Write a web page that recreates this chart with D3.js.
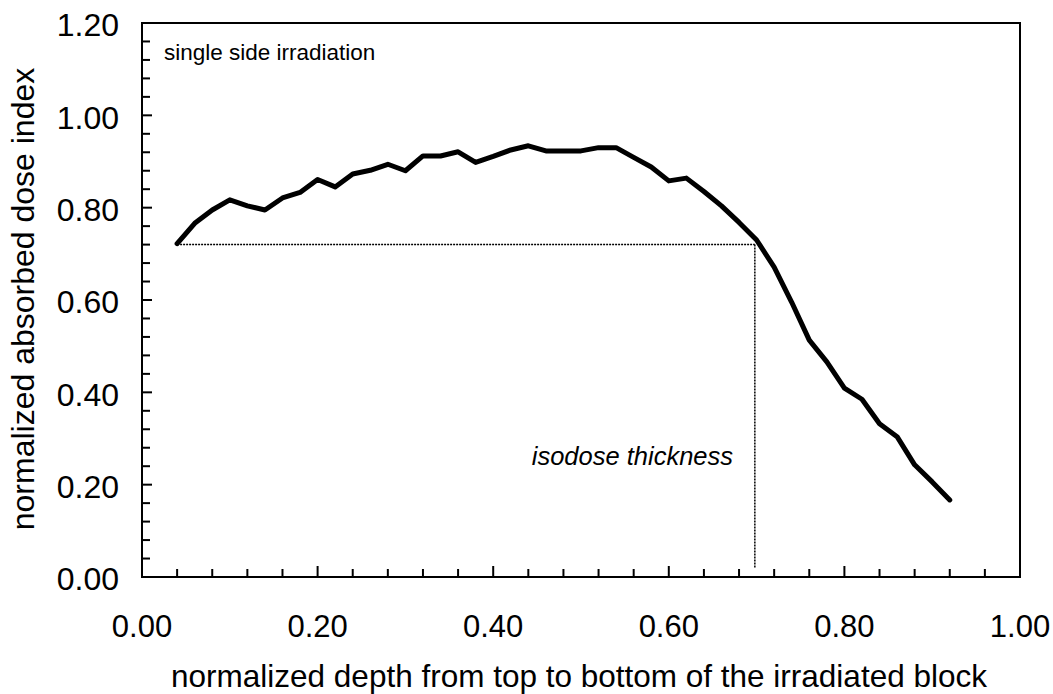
<!DOCTYPE html>
<html><head><meta charset="utf-8">
<script src="https://cdn.jsdelivr.net/npm/d3@7"></script>
<style>
html,body{margin:0;padding:0;background:#fff;}
svg{display:block;font-family:"Liberation Sans",Arial,sans-serif;}
</style></head>
<body>
<svg id="chart" width="1053" height="694"></svg>
<script>
const depth = [0.04,0.06,0.08,0.10,0.12,0.14,0.16,0.18,0.20,0.22,0.24,0.26,0.28,0.30,0.32,0.34,0.36,0.38,0.40,0.42,0.44,0.46,0.48,0.50,0.52,0.54,0.56,0.58,0.60,0.62,0.64,0.66,0.68,0.70,0.72,0.74,0.76,0.78,0.80,0.82,0.84,0.86,0.88,0.90,0.92];
const dose = [0.722,0.766,0.795,0.817,0.804,0.795,0.821,0.833,0.861,0.845,0.873,0.881,0.894,0.880,0.912,0.912,0.921,0.898,0.911,0.925,0.934,0.923,0.923,0.923,0.930,0.930,0.909,0.888,0.858,0.864,0.835,0.804,0.768,0.730,0.671,0.595,0.513,0.466,0.409,0.385,0.332,0.304,0.243,0.206,0.167];
const xTickLabels = ["0.00","0.20","0.40","0.60","0.80","1.00"];
const yTickLabels = ["0.00","0.20","0.40","0.60","0.80","1.00","1.20"];
const isoLevel = [0.72];
const isoDepth = [0.698];
const xTitle = "normalized depth from top to bottom of the irradiated block";
const yTitle = "normalized absorbed dose index";
const note = "single side irradiation";
const isoLabel = "isodose thickness";

const svg = d3.select("#chart");
const L = 142, R = 1020, T = 23, B = 577;
const x = d3.scaleLinear().domain([0, 1]).range([L, R]);
const y = d3.scaleLinear().domain([0, 1.2]).range([B, T]);

// frame
svg.append("rect").attr("x", L).attr("y", T).attr("width", R - L).attr("height", B - T)
  .attr("fill", "none").attr("stroke", "#000").attr("stroke-width", 2);

// minor ticks (step 0.04), major at 0.2
const minorVals = d3.range(0, 31).map(i => i * 0.04);
const g = svg.append("g").attr("stroke", "#000").attr("stroke-width", 2);
minorVals.forEach(v => {
  const major = Math.abs(v / 0.2 - Math.round(v / 0.2)) < 1e-6;
  if (v <= 1.0001) {
    g.append("line").attr("x1", x(v)).attr("x2", x(v)).attr("y1", B).attr("y2", B - (major ? 11 : 8));
  }
  if (v <= 1.2001) {
    g.append("line").attr("y1", y(v)).attr("y2", y(v)).attr("x1", L).attr("x2", L + (major ? 10 : 8));
  }
});

// tick labels
xTickLabels.forEach(t => {
  svg.append("text").attr("x", x(+t)).attr("y", 637).attr("text-anchor", "middle")
    .attr("font-size", 31).attr("fill", "#000").text(t);
});
yTickLabels.forEach(t => {
  svg.append("text").attr("x", 119).attr("y", y(+t) + 2).attr("dy", "0.35em").attr("text-anchor", "end")
    .attr("font-size", 32).attr("fill", "#000").text(t);
});

// titles
svg.append("text").attr("x", 579).attr("y", 687).attr("text-anchor", "middle")
  .attr("font-size", 31.5).attr("fill", "#000").text(xTitle);
svg.append("text").attr("transform", `translate(33.5,299) rotate(-90)`).attr("text-anchor", "middle")
  .attr("font-size", 32).attr("fill", "#000").text(yTitle);

// annotations
svg.append("text").attr("x", 164).attr("y", 60).attr("font-size", 22.5).attr("fill", "#000").text(note);
svg.append("text").attr("x", 733).attr("y", 465).attr("text-anchor", "end").attr("font-style", "italic")
  .attr("font-size", 25.5).attr("fill", "#000").text(isoLabel);

// dotted isodose lines
svg.append("line").attr("x1", x(depth[0])).attr("x2", x(isoDepth[0]))
  .attr("y1", y(isoLevel[0])).attr("y2", y(isoLevel[0]))
  .attr("stroke", "#000").attr("stroke-width", 1.5).attr("stroke-dasharray", "2,1");
svg.append("line").attr("x1", x(isoDepth[0])).attr("x2", x(isoDepth[0]))
  .attr("y1", y(isoLevel[0])).attr("y2", y(0.02))
  .attr("stroke", "#000").attr("stroke-width", 1.5).attr("stroke-dasharray", "2,1");

// curve
const line = d3.line().x((d, i) => x(depth[i])).y(d => y(d));
svg.append("path").datum(dose).attr("d", line).attr("fill", "none")
  .attr("stroke", "#000").attr("stroke-width", 5).attr("stroke-linejoin", "round").attr("stroke-linecap", "round");
</script>
</body></html>
